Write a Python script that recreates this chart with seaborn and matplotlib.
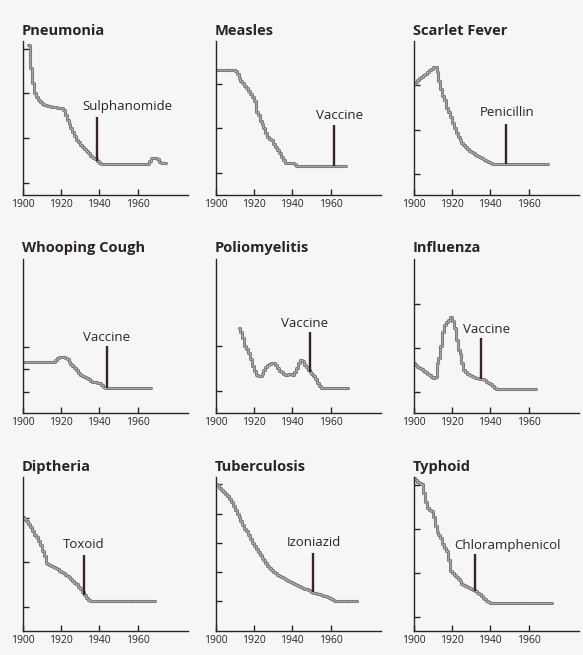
import matplotlib
matplotlib.use("Agg")
import matplotlib.pyplot as plt
import seaborn as sns
import pandas as pd

# ---------------------------------------------------------------------------
# Mortality curves (relative units, 0 = baseline of each small chart).
# Each series is stored as change points and drawn as a staircase.
# ---------------------------------------------------------------------------
pneumonia_years = [1903, 1904, 1905, 1906, 1907, 1908, 1909, 1910, 1911, 1912,
                   1913, 1914, 1915, 1917, 1918, 1919, 1921, 1922, 1923, 1924,
                   1925, 1926, 1927, 1928, 1929, 1930, 1931, 1932, 1933, 1934,
                   1935, 1936, 1937, 1938, 1939, 1940, 1941, 1966, 1967, 1970,
                   1971, 1972, 1975]
pneumonia_values = [3.35, 2.85, 2.50, 2.28, 2.20, 2.12, 2.08, 2.04, 2.02, 2.01,
                    2.00, 1.99, 1.98, 1.97, 1.96, 1.95, 1.90, 1.79, 1.68, 1.58,
                    1.50, 1.41, 1.32, 1.23, 1.18, 1.12, 1.07, 1.02, 0.98, 0.93,
                    0.88, 0.85, 0.82, 0.80, 0.77, 0.72, 0.69, 0.76, 0.84, 0.80,
                    0.74, 0.71, 0.71]

measles_years = [1901, 1910, 1911, 1912, 1913, 1914, 1915, 1916, 1917, 1918,
                 1919, 1920, 1921, 1922, 1923, 1924, 1925, 1926, 1927, 1928,
                 1929, 1930, 1931, 1932, 1933, 1934, 1935, 1936, 1941, 1942,
                 1968]
measles_values = [2.80, 2.77, 2.72, 2.62, 2.56, 2.51, 2.45, 2.39, 2.34, 2.27,
                  2.20, 2.10, 1.86, 1.80, 1.66, 1.60, 1.50, 1.38, 1.31, 1.26,
                  1.23, 1.14, 1.07, 1.01, 0.93, 0.86, 0.79, 0.72, 0.69, 0.66,
                  0.66]

scarlet_years = [1900, 1901, 1902, 1903, 1904, 1905, 1906, 1907, 1908, 1909,
                 1910, 1912, 1913, 1914, 1915, 1916, 1917, 1918, 1919, 1920,
                 1921, 1922, 1923, 1924, 1925, 1926, 1927, 1928, 1929, 1930,
                 1931, 1932, 1933, 1934, 1935, 1936, 1937, 1938, 1939, 1940,
                 1941, 1942, 1970]
scarlet_values = [2.49, 2.53, 2.57, 2.61, 2.64, 2.68, 2.72, 2.76, 2.79, 2.83,
                  2.86, 2.75, 2.55, 2.38, 2.22, 2.12, 1.96, 1.85, 1.75, 1.62,
                  1.50, 1.38, 1.30, 1.23, 1.17, 1.12, 1.07, 1.03, 0.99, 0.96,
                  0.93, 0.90, 0.87, 0.85, 0.82, 0.80, 0.78, 0.76, 0.74, 0.72,
                  0.70, 0.69, 0.69]

whooping_years = [1901, 1917, 1918, 1919, 1920, 1922, 1923, 1924, 1925, 1926,
                  1927, 1928, 1929, 1930, 1931, 1932, 1933, 1934, 1935, 1936,
                  1937, 1939, 1940, 1941, 1942, 1943, 1967]
whooping_values = [1.14, 1.18, 1.21, 1.24, 1.25, 1.22, 1.19, 1.14, 1.08, 1.04,
                   0.99, 0.95, 0.88, 0.83, 0.81, 0.79, 0.77, 0.75, 0.71, 0.69,
                   0.68, 0.67, 0.66, 0.61, 0.57, 0.54, 0.54]

polio_years = [1912, 1913, 1914, 1915, 1916, 1917, 1918, 1919, 1920, 1921,
               1922, 1923, 1924, 1925, 1926, 1927, 1928, 1929, 1931, 1932,
               1933, 1934, 1935, 1936, 1937, 1938, 1939, 1940, 1941, 1942,
               1943, 1944, 1945, 1946, 1947, 1948, 1949, 1950, 1951, 1952,
               1953, 1954, 1955, 1969]
polio_values = [1.89, 1.80, 1.68, 1.50, 1.42, 1.34, 1.20, 1.05, 0.92, 0.84,
                0.81, 0.82, 0.86, 0.95, 1.02, 1.07, 1.09, 1.10, 1.06, 0.99,
                0.94, 0.90, 0.87, 0.85, 0.84, 0.86, 0.87, 0.85, 0.90, 1.00,
                1.10, 1.17, 1.16, 1.07, 1.01, 0.96, 0.90, 0.87, 0.82, 0.76,
                0.67, 0.59, 0.54, 0.54]

influenza_years = [1900, 1901, 1902, 1903, 1904, 1905, 1906, 1907, 1908, 1909,
                   1910, 1911, 1912, 1913, 1914, 1915, 1916, 1917, 1918, 1919,
                   1920, 1921, 1922, 1923, 1924, 1925, 1926, 1927, 1928, 1929,
                   1930, 1931, 1932, 1933, 1934, 1936, 1937, 1938, 1939, 1940,
                   1941, 1942, 1943, 1964]
influenza_values = [1.10, 1.07, 1.03, 1.00, 0.97, 0.94, 0.91, 0.87, 0.84, 0.80,
                    0.78, 0.80, 1.10, 1.22, 1.50, 1.80, 1.95, 2.02, 2.08, 2.13,
                    2.05, 1.90, 1.62, 1.40, 1.30, 1.10, 0.96, 0.90, 0.86, 0.83,
                    0.81, 0.80, 0.78, 0.77, 0.76, 0.75, 0.72, 0.68, 0.65, 0.63,
                    0.59, 0.55, 0.52, 0.52]

diptheria_years = [1900, 1901, 1902, 1903, 1904, 1905, 1906, 1907, 1908, 1909,
                   1910, 1911, 1912, 1913, 1914, 1915, 1916, 1917, 1918, 1919,
                   1920, 1921, 1922, 1923, 1924, 1925, 1926, 1927, 1928, 1929,
                   1930, 1931, 1932, 1933, 1934, 1935, 1969]
diptheria_values = [2.55, 2.52, 2.47, 2.40, 2.33, 2.24, 2.16, 2.10, 2.01, 1.93,
                    1.80, 1.68, 1.53, 1.50, 1.48, 1.46, 1.44, 1.42, 1.40, 1.35,
                    1.32, 1.30, 1.26, 1.23, 1.20, 1.17, 1.13, 1.08, 1.05, 0.99,
                    0.94, 0.87, 0.81, 0.75, 0.69, 0.67, 0.67]

tuberculosis_years = [1900, 1901, 1902, 1903, 1904, 1905, 1906, 1907, 1908, 1909,
                      1910, 1911, 1912, 1913, 1914, 1915, 1916, 1917, 1918, 1919,
                      1920, 1921, 1922, 1923, 1924, 1925, 1926, 1927, 1928, 1929,
                      1930, 1931, 1932, 1933, 1934, 1935, 1936, 1937, 1938, 1939,
                      1940, 1941, 1942, 1943, 1944, 1945, 1946, 1947, 1948, 1949,
                      1950, 1951, 1952, 1953, 1954, 1955, 1956, 1957, 1958, 1959,
                      1960, 1961, 1962, 1974]
tuberculosis_values = [3.30, 3.26, 3.21, 3.15, 3.11, 3.06, 3.02, 2.96, 2.88, 2.80,
                       2.72, 2.63, 2.55, 2.46, 2.37, 2.28, 2.23, 2.14, 2.05, 1.97,
                       1.90, 1.83, 1.76, 1.70, 1.64, 1.58, 1.53, 1.46, 1.41, 1.36,
                       1.32, 1.29, 1.26, 1.23, 1.21, 1.18, 1.16, 1.14, 1.12, 1.10,
                       1.08, 1.06, 1.04, 1.01, 0.99, 0.97, 0.95, 0.93, 0.91, 0.89,
                       0.87, 0.86, 0.85, 0.84, 0.82, 0.81, 0.79, 0.78, 0.76, 0.74,
                       0.72, 0.69, 0.67, 0.67]

typhoid_years = [1900, 1901, 1902, 1903, 1904, 1905, 1906, 1907, 1908, 1909,
                 1910, 1911, 1912, 1913, 1914, 1915, 1916, 1917, 1918, 1919,
                 1920, 1921, 1922, 1923, 1924, 1925, 1926, 1927, 1928, 1929,
                 1930, 1931, 1932, 1933, 1934, 1935, 1936, 1937, 1938, 1939,
                 1940, 1972]
typhoid_values = [3.43, 3.38, 3.34, 3.32, 3.29, 3.10, 2.90, 2.76, 2.71, 2.68,
                  2.55, 2.35, 2.22, 2.16, 2.08, 1.95, 1.85, 1.80, 1.58, 1.35,
                  1.29, 1.25, 1.21, 1.16, 1.11, 1.06, 1.03, 1.00, 0.98, 0.96,
                  0.93, 0.91, 0.89, 0.86, 0.82, 0.79, 0.75, 0.72, 0.68, 0.65,
                  0.62, 0.62]

# Chart titles, in reading order
titles = ["Pneumonia", "Measles", "Scarlet Fever",
          "Whooping Cough", "Poliomyelitis", "Influenza",
          "Diptheria", "Tuberculosis", "Typhoid"]

# Medical interventions: name and year of introduction
intervention_names = ["Sulphanomide", "Vaccine", "Penicillin",
                      "Vaccine", "Vaccine", "Vaccine",
                      "Toxoid", "Izoniazid", "Chloramphenicol"]
intervention_years = [1939, 1962, 1948.3, 1944, 1949.2, 1935.4, 1932, 1950.8, 1932.1]

# Y tick marks of each small chart
yticks = [[0.28, 1.28, 2.28, 3.28],
          [0.49, 1.49, 2.49],
          [0.47, 1.46, 2.46],
          [0.47, 0.98, 1.46],
          [0.49, 1.49],
          [0.45, 1.44, 2.44],
          [0.54, 1.54, 2.54],
          [0.67, 1.32, 1.98, 2.63, 3.30],
          [0.31, 1.31, 2.29, 3.28]]

xticks = [1900, 1920, 1940, 1960]

series = [(pneumonia_years, pneumonia_values),
          (measles_years, measles_values),
          (scarlet_years, scarlet_values),
          (whooping_years, whooping_values),
          (polio_years, polio_values),
          (influenza_years, influenza_values),
          (diptheria_years, diptheria_values),
          (tuberculosis_years, tuberculosis_values),
          (typhoid_years, typhoid_values)]

# Where the intervention stem ends and where its caption sits
stem_tops = [1.74, 1.57, 1.59, 1.48, 1.81, 1.66, 1.70, 1.75, 1.73]
caption_pos = [(1954.6, 1.98), (1964.5, 1.78), (1949.0, 1.85),
               (1944.0, 1.69), (1946.6, 2.00), (1938.1, 1.87),
               (1932.0, 1.93), (1951.3, 1.98), (1949.1, 1.92)]

# ---------------------------------------------------------------------------
sns.set_theme(style="white")
plt.rcParams["font.family"] = ["Open Sans", "DejaVu Sans"]

BG = "#f6f6f6"
INK = "#2b2326"
STEM = "#3c2329"
W, H = 583, 655

fig = plt.figure(figsize=(W / 100, H / 100), dpi=100, facecolor=BG)

col_left = [22.5, 215.5, 413.5]
row_base = [195, 412.5, 631]
ax_w, ax_h = 165, 154


def step_value(years, values, when):
    """Value of a staircase series at a given year."""
    out = values[0]
    for y, v in zip(years, values):
        if y <= when:
            out = v
    return out


for i, (yrs, vals) in enumerate(series):
    r, c = divmod(i, 3)
    ax = fig.add_axes([col_left[c] / W, 1 - row_base[r] / H, ax_w / W, ax_h / H])
    ax.set_facecolor("none")

    df = pd.DataFrame({"year": yrs, "rate": vals})
    # textured curve: grey outer stroke with a fine light dotted core
    sns.lineplot(data=df, x="year", y="rate", ax=ax, estimator=None,
                 drawstyle="steps-post", color="#7c7c7c", linewidth=2.2)
    sns.lineplot(data=df, x="year", y="rate", ax=ax, estimator=None,
                 drawstyle="steps-post", color="#cfcfcf", linewidth=0.7,
                 linestyle=(0, (0.8, 0.8)))

    # intervention stem from the curve up to its caption
    yr = intervention_years[i]
    base = step_value(yrs, vals, yr)
    ax.plot([yr, yr], [base, stem_tops[i]], color=STEM, linewidth=1.7,
            solid_capstyle="butt")
    cx, cy = caption_pos[i]
    ax.text(cx, cy, intervention_names[i], ha="center", va="center",
            fontsize=9.5, color=INK)

    ax.text(-0.005, 1.04, titles[i], transform=ax.transAxes, ha="left",
            va="baseline", fontsize=10.5, fontweight="bold", color=INK)

    ax.set_xlim(1900, 1986)
    ax.set_ylim(0, 3.45)
    ax.set_xticks(xticks)
    ax.set_xticklabels([str(t) for t in xticks])
    ax.set_yticks(yticks[i])
    ax.set_xlabel("")
    ax.set_ylabel("")
    for side in ("top", "right"):
        ax.spines[side].set_visible(False)
    for side in ("left", "bottom"):
        ax.spines[side].set_color(INK)
        ax.spines[side].set_linewidth(1.0)
    ax.tick_params(axis="both", direction="in", length=4, width=1.0,
                   color=INK, bottom=True, left=True, labelleft=False)
    ax.tick_params(axis="x", labelsize=7.5, pad=3, labelcolor=INK)

fig.savefig("out.png", dpi=100, facecolor=BG)
